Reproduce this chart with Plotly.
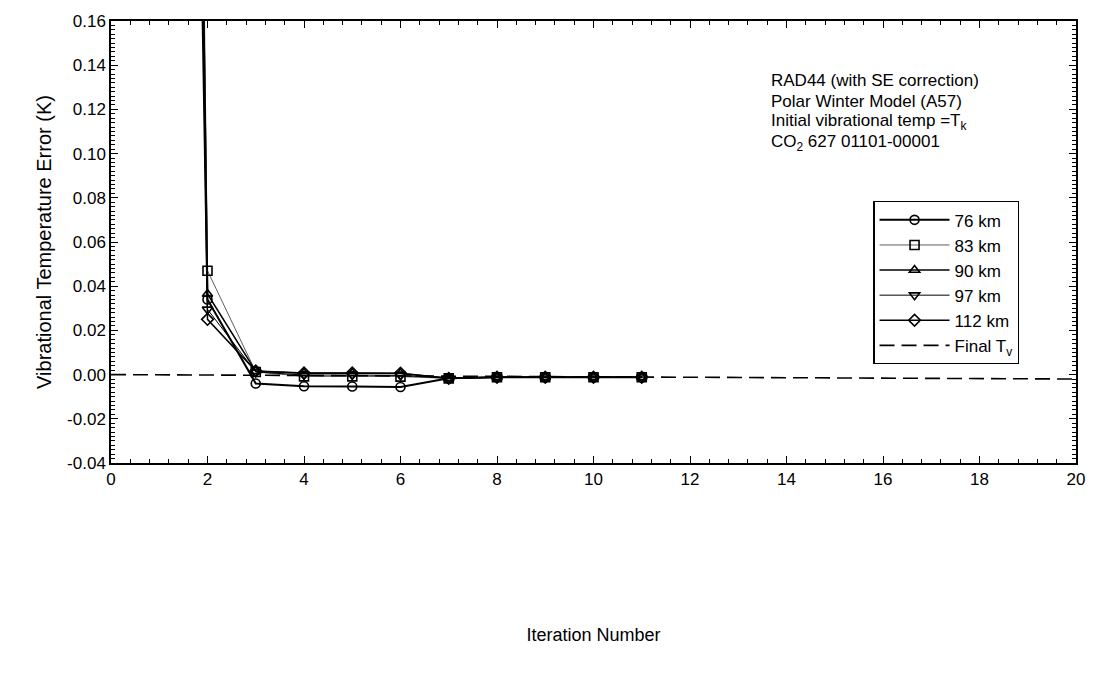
import plotly.graph_objects as go

iterations = [1, 2, 3, 4, 5, 6, 7, 8, 9, 10, 11]
err_76 = [1.6, 0.034, -0.004, -0.0053, -0.0054, -0.0056, -0.0017, -0.0012, -0.0012, -0.0012, -0.0012]
err_83 = [1.9, 0.047, 0.0012, -0.0008, -0.0008, -0.0009, -0.0017, -0.0012, -0.0012, -0.0012, -0.0012]
err_90 = [1.7, 0.0365, 0.0015, 0.0006, 0.0006, 0.0005, -0.0017, -0.0012, -0.0012, -0.0012, -0.0012]
err_97 = [1.5, 0.0295, 0.0012, -0.0002, -0.0002, -0.0004, -0.0017, -0.0012, -0.0012, -0.0012, -0.0012]
err_112 = [1.3, 0.025, 0.0016, 0.0007, 0.0007, 0.0006, -0.0017, -0.0012, -0.0012, -0.0012, -0.0012]
final_x = [0, 20]
final_tv = [0.0, -0.002]

series_names = ["76 km", "83 km", "90 km", "97 km", "112 km"]
x_ticks = [0, 2, 4, 6, 8, 10, 12, 14, 16, 18, 20]
y_ticks = [-0.04, -0.02, 0.00, 0.02, 0.04, 0.06, 0.08, 0.10, 0.12, 0.14, 0.16]
y_tick_labels = ["-0.04", "-0.02", "0.00", "0.02", "0.04", "0.06", "0.08", "0.10", "0.12", "0.14", "0.16"]
note_lines = [
    "RAD44 (with SE correction)",
    "Polar Winter Model (A57)",
    "Initial vibrational temp =T<sub>k</sub>",
    "CO<sub>2</sub> 627 01101-00001",
]

# minor tick positions (axis furniture, not data)
x_minor = [round(i * 0.4, 4) for i in range(51)]
y_minor = [round(-0.04 + i * 0.002, 4) for i in range(101)]

styles = [
    dict(symbol="circle-open", width=2.0, color="black"),
    dict(symbol="square-open", width=0.8, color="#333"),
    dict(symbol="triangle-up-open", width=1.5, color="black"),
    dict(symbol="triangle-down-open", width=1.0, color="black"),
    dict(symbol="diamond-open", width=1.5, color="black"),
]

fig = go.Figure()
for name, vals, st in zip(series_names, [err_76, err_83, err_90, err_97, err_112], styles):
    fig.add_trace(go.Scatter(
        x=iterations, y=vals, name=name, mode="lines+markers",
        line=dict(color=st["color"], width=st["width"]),
        marker=dict(symbol=st["symbol"], size=9, color="black",
                    line=dict(width=1.6, color="black")),
    ))

fig.add_trace(go.Scatter(
    x=final_x, y=final_tv, name="Final T<sub>v</sub>", mode="lines",
    line=dict(color="black", width=1.6, dash="15px,7px"),
))

font_family = "Liberation Sans, Arial, sans-serif"

note_y = [0.865, 0.818, 0.771, 0.724]
annotations = [
    dict(x=0.682, y=yy, xref="paper", yref="paper", xanchor="left", yanchor="middle",
         align="left", showarrow=False, font=dict(size=17, family=font_family), text=t)
    for t, yy in zip(note_lines, note_y)
]

fig.update_layout(
    width=1097, height=683,
    margin=dict(l=111, r=12, t=18, b=220),
    paper_bgcolor="white", plot_bgcolor="white",
    font=dict(family=font_family, size=17, color="black"),
    showlegend=True,
    legend=dict(
        x=0.79, y=0.5925, xanchor="left", yanchor="top",
        bgcolor="white", bordercolor="black", borderwidth=1.2,
        font=dict(size=17, family=font_family), tracegroupgap=0,
        itemwidth=70,
    ),
    xaxis=dict(
        range=[0, 20], tickvals=x_ticks, ticktext=[str(v) for v in x_ticks],
        ticks="inside", ticklen=7, tickwidth=1.2, tickcolor="black",
        showline=True, linecolor="black", linewidth=1.5, mirror="allticks",
        showgrid=False, zeroline=False,
        minor=dict(tickmode="array", tickvals=x_minor, ticks="inside", ticklen=4,
                   tickwidth=1, tickcolor="black", showgrid=False),
        title=dict(text="Iteration Number", font=dict(size=18), standoff=140),
        tickfont=dict(size=17),
    ),
    yaxis=dict(
        range=[-0.04, 0.16], tickvals=y_ticks, ticktext=y_tick_labels,
        ticks="inside", ticklen=7, tickwidth=1.2, tickcolor="black",
        showline=True, linecolor="black", linewidth=1.5, mirror="allticks",
        showgrid=False, zeroline=False,
        minor=dict(tickmode="array", tickvals=y_minor, ticks="inside", ticklen=4,
                   tickwidth=1, tickcolor="black", showgrid=False),
        title=dict(text="Vibrational Temperature Error (K)", font=dict(size=20), standoff=10),
        tickfont=dict(size=17),
    ),
    annotations=annotations,
)

fig.write_html("out.html")
